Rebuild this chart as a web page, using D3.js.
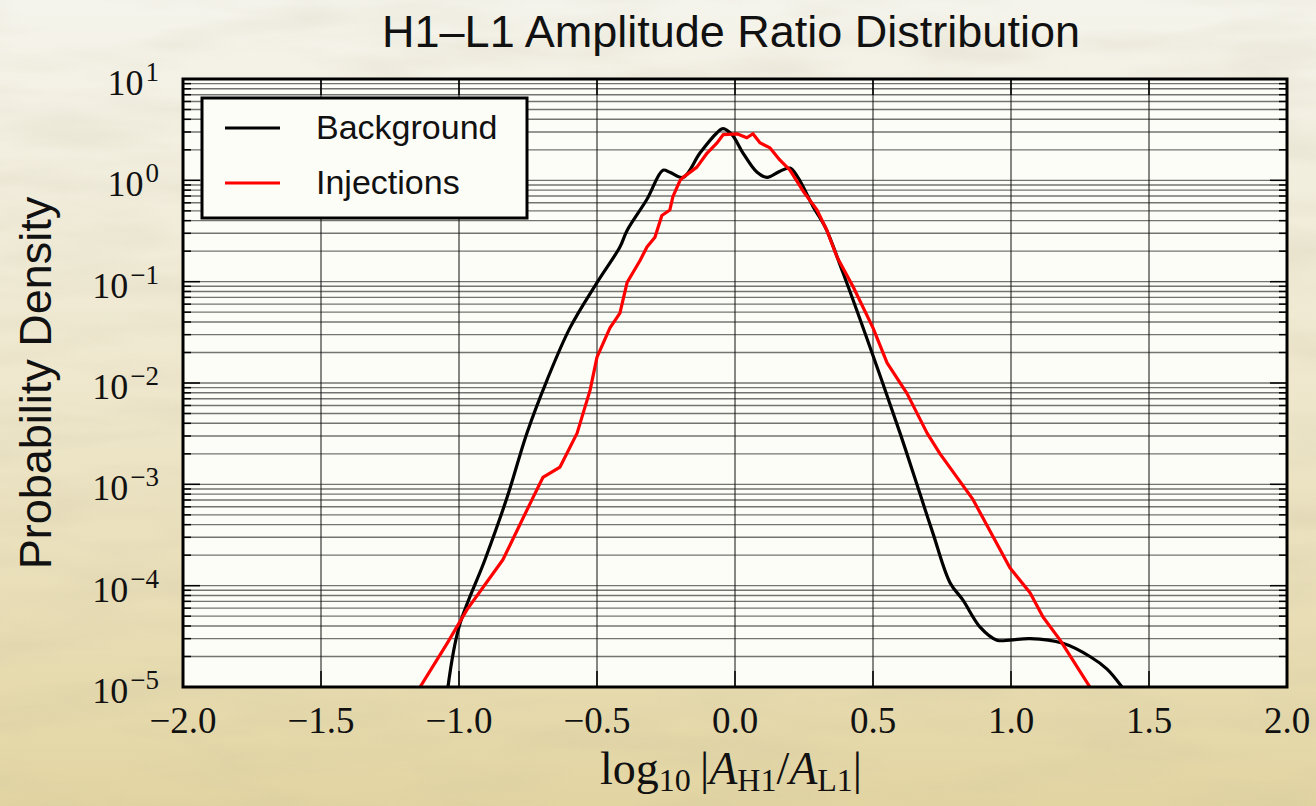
<!DOCTYPE html>
<html>
<head>
<meta charset="utf-8">
<script src="https://cdn.jsdelivr.net/npm/d3@7"></script>
<style>
  html, body { margin: 0; padding: 0; background: #efe9d2; }
  svg { display: block; }
</style>
</head>
<body>
<svg id="chart" width="1316" height="806"></svg>
<script>
// values
const xTicks = [-2.0, -1.5, -1.0, -0.5, 0.0, 0.5, 1.0, 1.5, 2.0];
const yExps = [1, 0, -1, -2, -3, -4, -5];

const bgX = [-1.04, -1.00, -0.906, -0.826, -0.754, -0.681, -0.598, -0.50, -0.417, -0.391, -0.319, -0.261, -0.236, -0.188, -0.127, -0.065, -0.043, -0.011, 0.029, 0.080, 0.116, 0.163, 0.199, 0.228, 0.283, 0.326, 0.391, 0.496, 0.598, 0.670, 0.717, 0.779, 0.826, 0.888, 0.949, 0.996, 1.069, 1.188, 1.286, 1.348, 1.402];
const bgY = [1.0e-5, 3.9e-5, 1.8e-4, 7.4e-4, 3.2e-3, 1.07e-2, 3.5e-2, 9.8e-2, 0.22, 0.32, 0.65, 1.26, 1.20, 1.07, 1.86, 2.95, 3.24, 2.82, 1.86, 1.20, 1.07, 1.23, 1.32, 1.07, 0.55, 0.35, 0.123, 0.020, 3.2e-3, 8.1e-4, 3.3e-4, 1.07e-4, 7.2e-5, 3.9e-5, 2.9e-5, 2.9e-5, 3.0e-5, 2.7e-5, 2.0e-5, 1.5e-5, 1.0e-5];

const injX = [-1.141, -1.043, -0.971, -0.841, -0.732, -0.696, -0.634, -0.572, -0.525, -0.500, -0.453, -0.417, -0.391, -0.344, -0.319, -0.290, -0.265, -0.236, -0.225, -0.199, -0.188, -0.138, -0.101, -0.065, -0.043, 0.007, 0.043, 0.065, 0.091, 0.127, 0.163, 0.199, 0.246, 0.297, 0.333, 0.370, 0.428, 0.500, 0.551, 0.623, 0.696, 0.743, 0.862, 0.996, 1.069, 1.116, 1.178, 1.286];
const injY = [1.0e-5, 2.7e-5, 5.8e-5, 1.8e-4, 7.4e-4, 1.17e-3, 1.48e-3, 3.2e-3, 8.5e-3, 0.018, 0.035, 0.049, 0.098, 0.162, 0.22, 0.275, 0.45, 0.51, 0.69, 1.0, 1.07, 1.35, 1.86, 2.34, 2.82, 2.88, 2.63, 2.88, 2.34, 2.09, 1.58, 1.26, 0.79, 0.51, 0.32, 0.174, 0.089, 0.035, 0.0158, 7.9e-3, 3.2e-3, 2.0e-3, 7.1e-4, 1.5e-4, 8.5e-5, 4.9e-5, 2.9e-5, 1.0e-5];

const seriesNames = ["Background", "Injections"];
const seriesColors = ["#000000", "#ff0000"];

const W = 1316, H = 806;
const pLeft = 183, pRight = 1287, pTop = 79, pBottom = 687;

const svg = d3.select("#chart");
const defs = svg.append("defs");

// page backdrop: pale water on top, sandy lower down
const grad = defs.append("linearGradient").attr("id", "bg").attr("x1", 0).attr("y1", 0).attr("x2", 0).attr("y2", 1);
grad.append("stop").attr("offset", "0%").attr("stop-color", "#f5f4ec");
grad.append("stop").attr("offset", "45%").attr("stop-color", "#efe8cf");
grad.append("stop").attr("offset", "100%").attr("stop-color", "#e3d5a2");

const noise = defs.append("filter").attr("id", "ripples").attr("x", 0).attr("y", 0).attr("width", "100%").attr("height", "100%");
noise.append("feTurbulence").attr("type", "fractalNoise").attr("baseFrequency", "0.006 0.03").attr("numOctaves", 3).attr("seed", 4);
noise.append("feColorMatrix").attr("type", "matrix")
  .attr("values", "0 0 0 0 0.55  0 0 0 0 0.5  0 0 0 0 0.35  0 0 0 0.9 -0.35");

svg.append("rect").attr("width", W).attr("height", H).attr("fill", "url(#bg)");
svg.append("rect").attr("width", W).attr("height", H).attr("filter", "url(#ripples)").attr("opacity", 0.45);

const x = d3.scaleLinear().domain([-2, 2]).range([pLeft, pRight]);
const y = d3.scaleLog().domain([1e-5, 10]).range([pBottom, pTop]);

defs.append("clipPath").attr("id", "plotclip")
  .append("rect").attr("x", pLeft).attr("y", pTop).attr("width", pRight - pLeft).attr("height", pBottom - pTop);

svg.append("rect")
  .attr("x", pLeft).attr("y", pTop).attr("width", pRight - pLeft).attr("height", pBottom - pTop)
  .attr("fill", "#fdfdf7");

// minor + major y values
const yMinor = [];
for (let k = -5; k < 1; k++) {
  for (let m = 2; m <= 9; m++) yMinor.push(m * Math.pow(10, k));
}
const yMajor = yExps.map(e => Math.pow(10, e));

// grid
const grid = svg.append("g");
grid.selectAll("line.hy")
  .data(yMinor.concat(yMajor))
  .join("line")
  .attr("class", "hy")
  .attr("x1", pLeft).attr("x2", pRight)
  .attr("y1", d => y(d)).attr("y2", d => y(d))
  .attr("stroke", "#3a3a3a").attr("stroke-width", 1.4).attr("opacity", 0.7);
grid.selectAll("line.vx")
  .data(xTicks)
  .join("line")
  .attr("class", "vx")
  .attr("x1", d => x(d)).attr("x2", d => x(d))
  .attr("y1", pTop).attr("y2", pBottom)
  .attr("stroke", "#111").attr("stroke-width", 1);

// ticks on all four sides, pointing in
const ticks = svg.append("g").attr("stroke", "#000");
ticks.selectAll("line.xb").data(xTicks).join("line")
  .attr("x1", d => x(d)).attr("x2", d => x(d)).attr("y1", pBottom).attr("y2", pBottom - 16).attr("stroke-width", 1.5);
ticks.selectAll("line.xt").data(xTicks).join("line")
  .attr("x1", d => x(d)).attr("x2", d => x(d)).attr("y1", pTop).attr("y2", pTop + 16).attr("stroke-width", 1.5);
ticks.selectAll("line.yl").data(yMajor).join("line")
  .attr("x1", pLeft).attr("x2", pLeft + 17).attr("y1", d => y(d)).attr("y2", d => y(d)).attr("stroke-width", 1.5);
ticks.selectAll("line.yr").data(yMajor).join("line")
  .attr("x1", pRight).attr("x2", pRight - 17).attr("y1", d => y(d)).attr("y2", d => y(d)).attr("stroke-width", 1.5);
ticks.selectAll("line.yml").data(yMinor).join("line")
  .attr("x1", pLeft).attr("x2", pLeft + 8).attr("y1", d => y(d)).attr("y2", d => y(d)).attr("stroke-width", 1.5);
ticks.selectAll("line.ymr").data(yMinor).join("line")
  .attr("x1", pRight).attr("x2", pRight - 8).attr("y1", d => y(d)).attr("y2", d => y(d)).attr("stroke-width", 1.5);

// curves
const plot = svg.append("g").attr("clip-path", "url(#plotclip)");
const bgLine = d3.line().x(d => x(d[0])).y(d => y(d[1])).curve(d3.curveCatmullRom.alpha(0.5));
const injLine = d3.line().x(d => x(d[0])).y(d => y(d[1])).curve(d3.curveLinear);

plot.append("path")
  .datum(bgX.map((v, i) => [v, bgY[i]]))
  .attr("d", bgLine)
  .attr("fill", "none").attr("stroke", seriesColors[0]).attr("stroke-width", 3.2).attr("stroke-linejoin", "round");
plot.append("path")
  .datum(injX.map((v, i) => [v, injY[i]]))
  .attr("d", injLine)
  .attr("fill", "none").attr("stroke", seriesColors[1]).attr("stroke-width", 3.2).attr("stroke-linejoin", "round");

// frame
svg.append("rect")
  .attr("x", pLeft).attr("y", pTop).attr("width", pRight - pLeft).attr("height", pBottom - pTop)
  .attr("fill", "none").attr("stroke", "#000").attr("stroke-width", 3);

// x tick labels
const fmt = d3.format(".1f");
svg.append("g").selectAll("text").data(xTicks).join("text")
  .attr("x", d => x(d)).attr("y", pBottom + 46)
  .attr("text-anchor", "middle")
  .attr("font-family", "'Liberation Serif', 'DejaVu Serif', serif")
  .attr("font-size", 37)
  .attr("fill", "#111")
  .text(d => fmt(d));

// y tick labels as 10^k
const yl = svg.append("g").selectAll("text").data(yExps).join("text")
  .attr("x", pLeft - 24).attr("y", e => y(Math.pow(10, e)) + 16)
  .attr("text-anchor", "end")
  .attr("font-family", "'Liberation Serif', 'DejaVu Serif', serif")
  .attr("font-size", 36)
  .attr("fill", "#111");
yl.append("tspan").text("10");
yl.append("tspan").attr("dx", 2).attr("dy", -14).attr("font-size", 27).text(e => e < 0 ? "\u2212" + (-e) : String(e));

// title
svg.append("text")
  .attr("x", 731).attr("y", 47)
  .attr("text-anchor", "middle")
  .attr("font-family", "'Liberation Sans', Arial, sans-serif")
  .attr("font-size", 45)
  .attr("fill", "#111")
  .text("H1\u2013L1 Amplitude Ratio Distribution");

// y axis label
svg.append("text")
  .attr("transform", "translate(51,383) rotate(-90)")
  .attr("text-anchor", "middle")
  .attr("font-family", "'Liberation Sans', Arial, sans-serif")
  .attr("font-size", 45)
  .attr("fill", "#111")
  .text("Probability Density");

// x axis label: log10 |A_H1 / A_L1|
const xl = svg.append("text")
  .attr("x", 731).attr("y", 784)
  .attr("text-anchor", "middle")
  .attr("font-family", "'Liberation Serif', 'DejaVu Serif', serif")
  .attr("font-size", 46)
  .attr("fill", "#111");
xl.append("tspan").text("log");
xl.append("tspan").attr("dy", 7).attr("font-size", 32).text("10");
xl.append("tspan").attr("dy", -7).text("\u2009|");
xl.append("tspan").attr("font-style", "italic").text("A");
xl.append("tspan").attr("dy", 7).attr("font-size", 32).text("H1");
xl.append("tspan").attr("dy", -7).text("/");
xl.append("tspan").attr("font-style", "italic").text("A");
xl.append("tspan").attr("dy", 7).attr("font-size", 32).text("L1");
xl.append("tspan").attr("dy", -7).text("|");

// legend
const lg = svg.append("g");
lg.append("rect")
  .attr("x", 202).attr("y", 98).attr("width", 325).attr("height", 120)
  .attr("fill", "#fdfdf7").attr("stroke", "#000").attr("stroke-width", 3);
seriesNames.forEach((name, i) => {
  const ly = 128 + i * 55;
  lg.append("line")
    .attr("x1", 225).attr("x2", 280).attr("y1", ly).attr("y2", ly)
    .attr("stroke", seriesColors[i]).attr("stroke-width", 3.2);
  lg.append("text")
    .attr("x", 316).attr("y", ly + 11)
    .attr("font-family", "'Liberation Sans', Arial, sans-serif")
    .attr("font-size", 34)
    .attr("fill", "#111")
    .text(name);
});
</script>
</body>
</html>
